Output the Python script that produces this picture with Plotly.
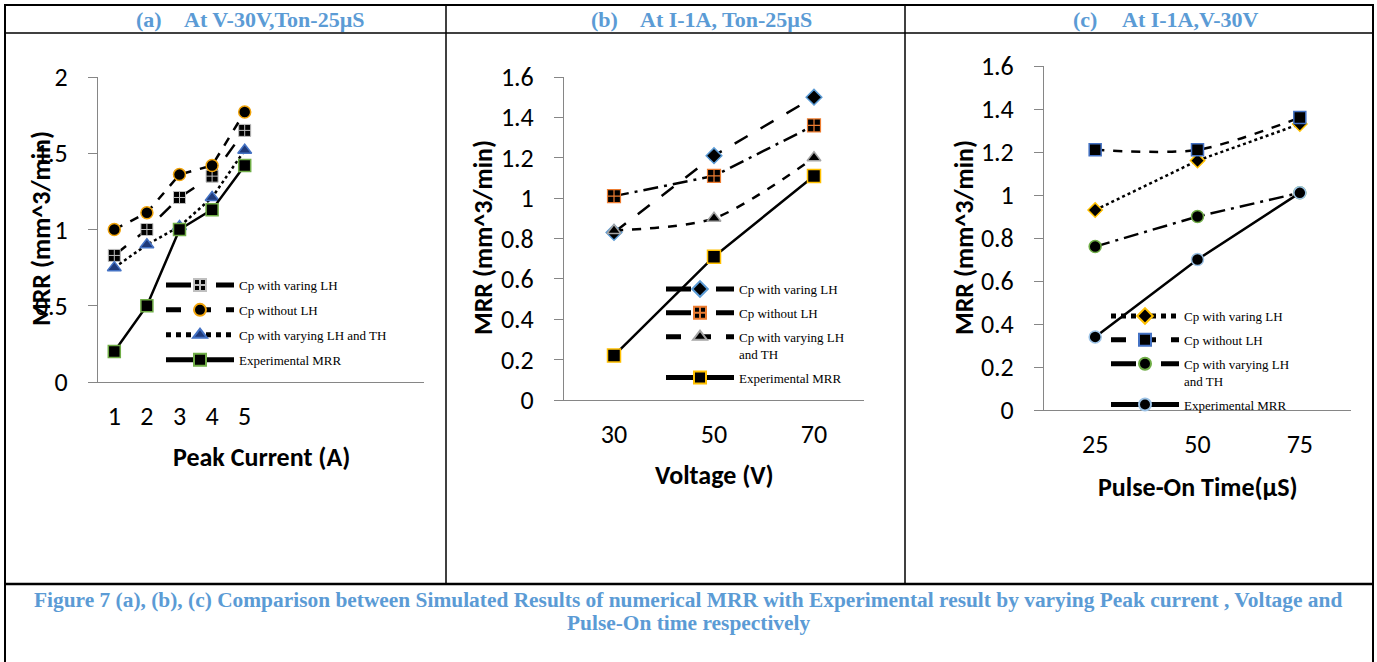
import plotly.graph_objects as go

# ---------------- data ----------------
peak_current = [1, 2, 3, 4, 5]
a_varing_lh = [0.83, 1.00, 1.21, 1.35, 1.65]
a_without_lh = [1.00, 1.11, 1.36, 1.42, 1.77]
a_lh_th = [0.75, 0.90, 1.02, 1.21, 1.52]
a_exp = [0.20, 0.50, 1.00, 1.13, 1.42]

voltage = ["30", "50", "70"]
b_varing_lh = [0.83, 1.21, 1.50]
b_without_lh = [1.01, 1.11, 1.36]
b_lh_th = [0.84, 0.90, 1.20]
b_exp = [0.22, 0.71, 1.11]

pulse_on = ["25", "50", "75"]
c_varing_lh = [0.93, 1.16, 1.33]
c_without_lh = [1.21, 1.21, 1.36]
c_lh_th = [0.76, 0.90, 1.01]
c_exp = [0.34, 0.70, 1.01]

a_yticks = [0, 0.5, 1, 1.5, 2]
a_yticklabels = ["0", "0.5", "1", "1.5", "2"]
bc_yticks = [0, 0.2, 0.4, 0.6, 0.8, 1.0, 1.2, 1.4, 1.6]
bc_yticklabels = ["0", "0.2", "0.4", "0.6", "0.8", "1", "1.2", "1.4", "1.6"]

names = ["Cp with varing LH", "Cp without LH", "Cp with varying LH and TH", "Experimental MRR"]
names_wrapped = ["Cp with varing LH", "Cp without LH", "Cp with varying LH<br>and TH", "Experimental MRR"]

# ---------------- geometry ----------------
W, H = 1377, 662
def px(x):
    return x / W
def py(y):
    return 1 - y / H

TICK_FONT = dict(family="Carlito, Lato, sans-serif", size=26, color="black")
TITLE_FONT = dict(family="Carlito, Lato, sans-serif", size=26, color="black", weight="bold")
LEG_FONT = dict(family="Liberation Serif, Times New Roman, serif", size=13, color="black")
HEAD_FONT = dict(family="Liberation Serif, Times New Roman, serif", size=22, color="#5B9BD5", weight="bold")
CAP_FONT = dict(family="Liberation Serif, Times New Roman, serif", size=21.4, color="#5B9BD5", weight="bold")
AX_COL = "#868686"

fig = go.Figure()

def add(x, y, name, xa, ya, leg, dash, symbol, color, edge, size=12, shape="linear", ew=1.5):
    fig.add_trace(go.Scatter(
        x=x, y=y, name=name, xaxis=xa, yaxis=ya, legend=leg,
        legendgroup=leg + name, mode="lines+markers",
        line=dict(color="black", width=2.5, dash=dash, shape=shape, smoothing=0.8),
        marker=dict(symbol=symbol, size=size, color=color, line=dict(color=edge, width=ew)),
    ))

# panel (a)
add(peak_current, a_varing_lh, names[0], "x", "y", "legend", "longdash", "square-cross", "black", "#BFBFBF", ew=1)
add(peak_current, a_without_lh, names[1], "x", "y", "legend", "dash", "circle", "black", "#F0A30A")
add(peak_current, a_lh_th, names[2], "x", "y", "legend", "dot", "triangle-up", "#1F3A7A", "#4472C4")
add(peak_current, a_exp, names[3], "x", "y", "legend", "solid", "square", "black", "#70AD47")

# panel (b)
add(voltage, b_varing_lh, names_wrapped[0], "x2", "y2", "legend2", "longdash", "diamond", "black", "#5B9BD5")
add(voltage, b_without_lh, names_wrapped[1], "x2", "y2", "legend2", "longdashdot", "square-cross", "black", "#ED7D31", size=13, ew=1.2)
add(voltage, b_lh_th, names_wrapped[2], "x2", "y2", "legend2", "dash", "triangle-up", "black", "#A5A5A5", shape="spline")
add(voltage, b_exp, names_wrapped[3], "x2", "y2", "legend2", "solid", "square", "black", "#FFC000", size=13)

# panel (c)
add(pulse_on, c_varing_lh, names_wrapped[0], "x3", "y3", "legend3", "dot", "diamond", "black", "#FFC000", size=11)
add(pulse_on, c_without_lh, names_wrapped[1], "x3", "y3", "legend3", "dash", "square", "black", "#4472C4", shape="spline")
add(pulse_on, c_lh_th, names_wrapped[2], "x3", "y3", "legend3", "longdashdot", "circle", "black", "#70AD47")
add(pulse_on, c_exp, names_wrapped[3], "x3", "y3", "legend3", "solid", "circle", "black", "#9DC3E6")

xcommon = dict(showgrid=False, zeroline=False, showline=True, linecolor=AX_COL, linewidth=1,
               ticks="", tickfont=TICK_FONT, ticklabelstandoff=11, automargin=False)
ycommon = dict(showgrid=False, zeroline=False, showline=True, linecolor=AX_COL, linewidth=1,
               ticks="outside", ticklen=9, tickcolor=AX_COL, tickfont=TICK_FONT,
               ticklabelstandoff=15, automargin=False)

legcommon = dict(font=LEG_FONT, bgcolor="rgba(0,0,0,0)", borderwidth=0, orientation="v",
                 xanchor="left", yanchor="top", itemwidth=68, valign="top",
                 itemsizing="constant")

fig.update_layout(
    width=W, height=H, margin=dict(l=0, r=0, t=0, b=0, autoexpand=False),
    paper_bgcolor="white", plot_bgcolor="white",
    xaxis=dict(xcommon, domain=[px(98), px(424)], anchor="y", range=[0.5, 10.5],
               tickvals=peak_current, ticktext=[str(v) for v in peak_current]),
    yaxis=dict(ycommon, domain=[py(382), py(77)], anchor="x", range=[0, 2],
               tickvals=a_yticks, ticktext=a_yticklabels),
    xaxis2=dict(xcommon, domain=[px(564), px(864)], anchor="y2", type="category", range=[-0.5, 2.5]),
    yaxis2=dict(ycommon, domain=[py(400), py(77)], anchor="x2", range=[0, 1.6],
                tickvals=bc_yticks, ticktext=bc_yticklabels),
    xaxis3=dict(xcommon, domain=[px(1044), px(1351)], anchor="y3", type="category", range=[-0.5, 2.5]),
    yaxis3=dict(ycommon, domain=[py(410), py(66)], anchor="x3", range=[0, 1.6],
                tickvals=bc_yticks, ticktext=bc_yticklabels),
    legend=dict(legcommon, x=px(161), y=py(270), tracegroupgap=5),
    legend2=dict(legcommon, x=px(661), y=py(274), tracegroupgap=4),
    legend3=dict(legcommon, x=px(1106), y=py(301), tracegroupgap=4),
    showlegend=True,
)

# axis titles
ann = []
def title(text, x, y, angle=0):
    ann.append(dict(text=text, x=px(x), y=py(y), xref="paper", yref="paper", showarrow=False,
                    textangle=angle, font=TITLE_FONT, xanchor="center", yanchor="middle"))
title("MRR (mm^3/min)", 41, 229, -90)
title("Peak Current (A)", 261, 457)
title("MRR (mm^3/min)", 483, 238, -90)
title("Voltage (V)", 714, 475)
title("MRR (mm^3/min)", 964, 238, -90)
title("Pulse-On Time(µS)", 1198, 487)

# header row texts
def head(text, x, y=19):
    ann.append(dict(text=text, x=px(x), y=py(y), xref="paper", yref="paper", showarrow=False,
                    font=HEAD_FONT, xanchor="left", yanchor="middle"))
head("(a)", 134); head("At V-30V,Ton-25µS", 182)
head("(b)", 589); head("At I-1A, Ton-25µS", 638)
head("(c)", 1071); head("At I-1A,V-30V", 1120)

# caption
cap1 = "Figure 7 (a), (b), (c) Comparison between Simulated Results of numerical MRR with Experimental result by varying Peak current , Voltage and"
cap2 = "Pulse-On time respectively"
for t, yy in ((cap1, 600), (cap2, 623)):
    ann.append(dict(text=t, x=px(688), y=py(yy), xref="paper", yref="paper", showarrow=False,
                    font=CAP_FONT, xanchor="center", yanchor="middle"))
fig.update_layout(annotations=ann)

# table borders
def hline(y, x0, x1, w):
    fig.add_shape(type="line", xref="paper", yref="paper", x0=px(x0), x1=px(x1), y0=py(y), y1=py(y),
                  line=dict(color="black", width=w))
def vline(x, y0, y1, w):
    fig.add_shape(type="line", xref="paper", yref="paper", x0=px(x), x1=px(x), y0=py(y0), y1=py(y1),
                  line=dict(color="black", width=w))
hline(5, 4, 1374, 2)
hline(33, 5, 1373, 1.5)
hline(584, 4, 1374, 2.5)
vline(5, 4, 662, 2)
vline(1373, 4, 662, 2)
vline(446, 5, 584, 1.5)
vline(905, 5, 584, 1.5)

fig.write_html("out.html", config={"displayModeBar": False},
               post_script="document.body.style.margin='0px';")
